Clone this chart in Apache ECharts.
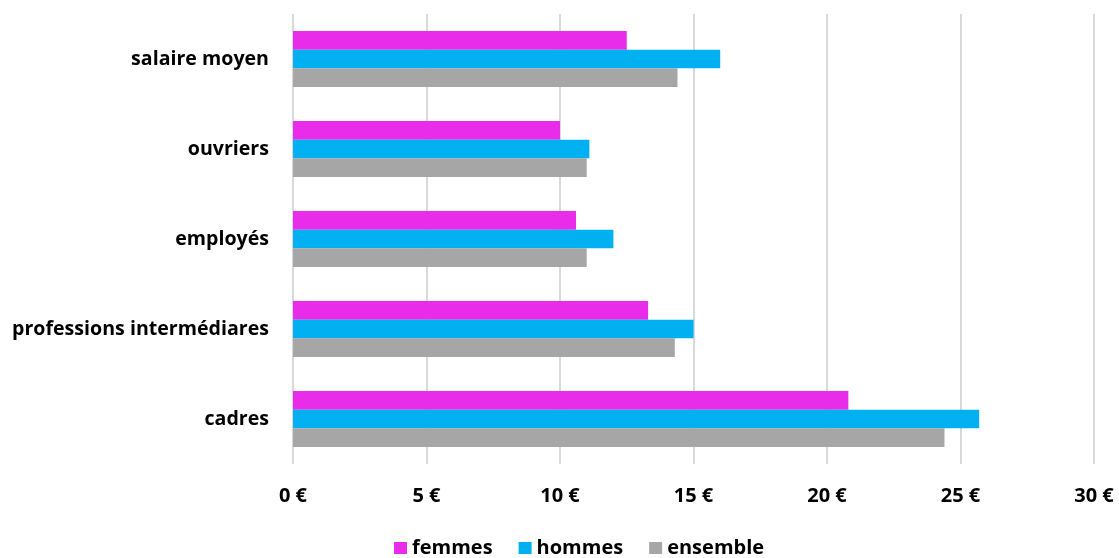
<!DOCTYPE html>
<html>
<head>
<meta charset="utf-8">
<script src="https://cdn.jsdelivr.net/npm/echarts@6/dist/echarts.min.js"></script>
<style>
  html, body { margin: 0; padding: 0; background: #fff; }
  #chart { width: 1119px; height: 558px; }
</style>
</head>
<body>
<div id="chart"></div>
<script>
// categories, top to bottom
let categories = ['salaire moyen', 'ouvriers', 'employés', 'professions intermédiares', 'cadres']
let femmes = [12.5, 10.0, 10.6, 13.3, 20.8]
let hommes = [16.0, 11.1, 12.0, 15.0, 25.7]
let ensemble = [14.4, 11.0, 11.0, 14.3, 24.4]

let font = '"Open Sans", sans-serif'

let chart = echarts.init(document.getElementById('chart'))
let option = {
  animation: false,
  color: ['#E92CE9', '#00B0F0', '#A6A6A6'],
  grid: {left: 293, right: 25, top: 14, bottom: 94},
  legend: {
    data: ['femmes', 'hommes', 'ensemble'],
    left: 389,
    top: 532,
    icon: 'rect',
    itemWidth: 13,
    itemHeight: 12,
    itemGap: 26,
    textStyle: {fontFamily: font, fontWeight: 'bold', fontSize: 20, color: '#000', lineHeight: 22}
  },
  xAxis: {
    type: 'value',
    min: 0,
    max: 30,
    interval: 5,
    axisLine: {show: false},
    axisTick: {show: false},
    splitLine: {lineStyle: {color: '#d9d9d9', width: 2}},
    axisLabel: {
      formatter: v => v + ' €',
      fontFamily: font, fontWeight: 'bold', fontSize: 20, color: '#000',
      lineHeight: 20, margin: 22
    }
  },
  yAxis: {
    type: 'category',
    data: categories,
    inverse: true,
    axisLine: {show: false},
    axisTick: {show: false},
    splitLine: {show: false},
    axisLabel: {fontFamily: font, fontWeight: 'bold', fontSize: 19.6, color: '#000', margin: 24}
  },
  series: [
    {name: 'femmes', type: 'bar', data: femmes, barGap: 0, barCategoryGap: '37.8%'},
    {name: 'hommes', type: 'bar', data: hommes, barGap: 0, barCategoryGap: '37.8%'},
    {name: 'ensemble', type: 'bar', data: ensemble, barGap: 0, barCategoryGap: '37.8%'}
  ]
}
chart.setOption(option)
</script>
</body>
</html>
